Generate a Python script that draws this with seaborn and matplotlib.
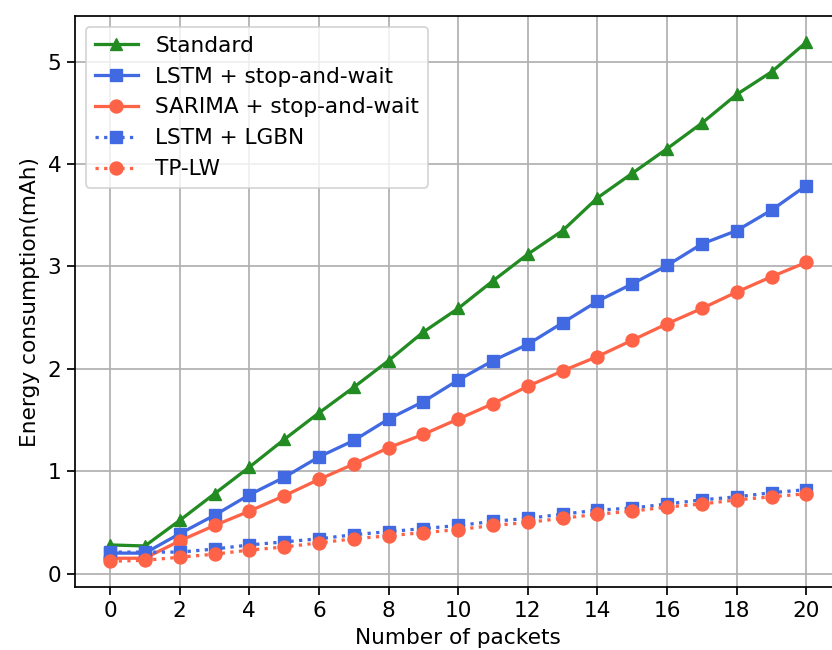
import numpy as np
import pandas as pd
import seaborn as sns
import matplotlib
matplotlib.use("Agg")
import matplotlib.pyplot as plt

# values
packets = list(range(21))
standard = [0.28, 0.27, 0.52, 0.78, 1.04, 1.31, 1.57, 1.82, 2.08, 2.36, 2.59,
            2.86, 3.12, 3.35, 3.67, 3.91, 4.15, 4.40, 4.68, 4.90, 5.19]
lstm_saw = [0.20, 0.20, 0.39, 0.57, 0.77, 0.94, 1.14, 1.30, 1.51, 1.68, 1.89,
            2.08, 2.24, 2.45, 2.66, 2.83, 3.01, 3.22, 3.35, 3.55, 3.79]
sarima_saw = [0.15, 0.15, 0.32, 0.47, 0.61, 0.76, 0.92, 1.07, 1.23, 1.36, 1.51,
              1.66, 1.83, 1.98, 2.12, 2.28, 2.44, 2.59, 2.75, 2.90, 3.04]
lstm_lgbn = [0.21, 0.21, 0.21, 0.24, 0.28, 0.31, 0.34, 0.38, 0.41, 0.44, 0.47,
             0.51, 0.54, 0.58, 0.62, 0.64, 0.68, 0.72, 0.75, 0.79, 0.82]
tp_lw = [0.12, 0.13, 0.16, 0.19, 0.23, 0.26, 0.30, 0.34, 0.37, 0.40, 0.43,
         0.47, 0.50, 0.54, 0.58, 0.61, 0.65, 0.68, 0.72, 0.75, 0.78]

df = pd.DataFrame({'packets': packets, 'Standard': standard,
                   'LSTM + stop-and-wait': lstm_saw,
                   'SARIMA + stop-and-wait': sarima_saw,
                   'LSTM + LGBN': lstm_lgbn, 'TP-LW': tp_lw})

# reference looks like default matplotlib scaled up ~1.2x
scale = 1.2
plt.rcParams.update({
    'font.size': 10 * scale,
    'lines.linewidth': 1.5 * scale,
    'lines.markersize': 6 * scale,
    'grid.linewidth': 0.8 * scale,
    'axes.linewidth': 0.8 * scale,
    'xtick.major.size': 3.5 * scale,
    'ytick.major.size': 3.5 * scale,
    'xtick.major.width': 0.8 * scale,
    'ytick.major.width': 0.8 * scale,
})

fig = plt.figure(figsize=(6.4, 5.0), dpi=130)
ax = fig.add_axes([0.0905, 0.0965, 1.011 - 0.0905, 0.975 - 0.0965])

styles = [('Standard', 'forestgreen', '^', '-'),
          ('LSTM + stop-and-wait', 'royalblue', 's', '-'),
          ('SARIMA + stop-and-wait', 'tomato', 'o', '-'),
          ('LSTM + LGBN', 'royalblue', 's', ':'),
          ('TP-LW', 'tomato', 'o', ':')]

for name, color, marker, ls in styles:
    sns.lineplot(data=df, x='packets', y=name, color=color, marker=marker,
                 linestyle=ls, markeredgecolor=color, label=name, ax=ax)

ax.set_xticks(range(0, 21, 2))
ax.set_xlim(-1, 21)
ax.set_xlabel('Number of packets')
ax.set_ylabel('Energy consumption(mAh)')
ax.grid(True)
ax.legend(loc='upper left')

plt.savefig('out.png', dpi=130)
